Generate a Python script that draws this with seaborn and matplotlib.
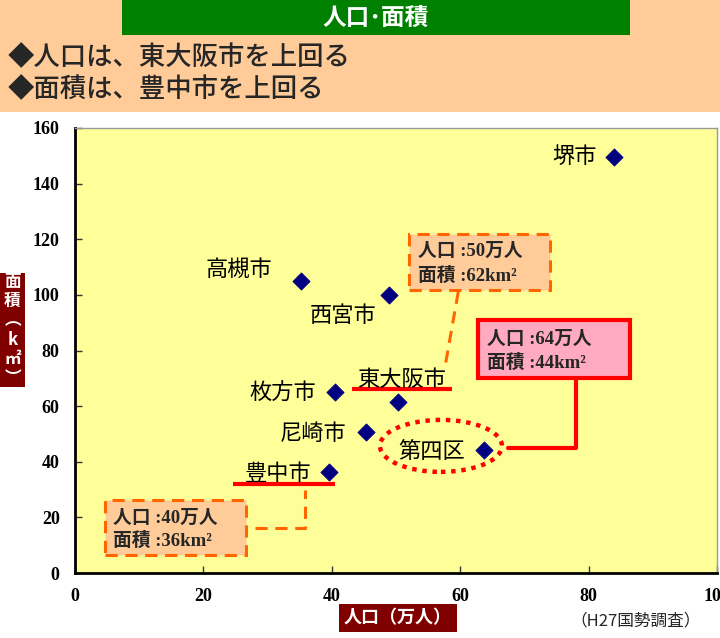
import matplotlib
matplotlib.use('Agg')
import matplotlib.pyplot as plt
from matplotlib.patches import Rectangle, Ellipse
import pandas as pd
import seaborn as sns

# data (人口 万人, 面積 km2)
cities = ['堺市', '高槻市', '西宮市', '枚方市', '東大阪市', '尼崎市', '第四区', '豊中市']
population = [84.0, 35.2, 48.9, 40.5, 50.3, 45.3, 63.7, 39.6]
area = [149.6, 105.0, 100.0, 65.0, 61.5, 50.7, 44.2, 36.3]
# label placement: (ha, dx px, dy px)
label_pos = [('right', -17, 0), ('right', -29, 12), ('center', -46, -21),
             ('right', -19, -1), ('center', 4, 23), ('right', -19, -1),
             ('right', -19, -1), ('right', -18, -1)]

xticks = [0, 20, 40, 60, 80, 100]
yticks = [0, 20, 40, 60, 80, 100, 120, 140, 160]

df = pd.DataFrame({'city': cities, 'pop': population, 'area': area})

sns.set_theme(style='white')
plt.rcParams['font.family'] = ['Noto Sans CJK JP', 'DejaVu Sans']

NAVY = '#000080'
DARKRED = '#800000'
ORANGE = '#FF6600'
PEACH = '#FFCC99'

fig = plt.figure(figsize=(7.2, 6.38), dpi=100)
W, H = 720, 638


def fx(px):
    return px / W


def fy(py):
    return 1 - py / H


# header
fig.patches.append(Rectangle((0, fy(112)), 1, 112 / H, transform=fig.transFigure,
                             facecolor=PEACH, edgecolor='none', zorder=0))
fig.patches.append(Rectangle((fx(122), fy(35)), fx(630) - fx(122), 35 / H,
                             transform=fig.transFigure, facecolor='#008000',
                             edgecolor='none', zorder=1))
fig.text(fx(376), fy(18), '人口･面積', color='white', fontsize=17, fontweight='bold',
         ha='center', va='center')
fig.text(fx(8), fy(58), '◆人口は、東大阪市を上回る', fontsize=19, ha='left', va='center',
         fontweight='medium')
fig.text(fx(8), fy(90), '◆面積は、豊中市を上回る', fontsize=19, ha='left', va='center',
         fontweight='medium')

ax = fig.add_axes([fx(75), fy(573), (717 - 75) / W, (573 - 128) / H])
ax.set_facecolor('#FFFF99')

sns.scatterplot(data=df, x='pop', y='area', marker='D', s=75, color=NAVY,
                edgecolor=NAVY, ax=ax, zorder=5)

ax.set_xlim(0, 100)
ax.set_ylim(0, 160)
ax.set_xticks(xticks)
ax.set_yticks(yticks)
ax.set_xlabel('')
ax.set_ylabel('')
ax.tick_params(direction='in', length=5, width=1, colors='#333333', pad=11,
               bottom=True, left=True)
for lab in ax.get_xticklabels() + ax.get_yticklabels():
    lab.set_family('Liberation Serif')
    lab.set_fontweight('bold')
    lab.set_fontsize(13)
    lab.set_color('black')
for s in ['left', 'bottom']:
    ax.spines[s].set_color('black')
    ax.spines[s].set_linewidth(2)
for s in ['top', 'right']:
    ax.spines[s].set_color('#999999')
    ax.spines[s].set_linewidth(1)

# city labels
for name, x, y, (ha, dx, dy) in zip(cities, population, area, label_pos):
    ax.annotate(name, (x, y), xytext=(dx * 0.72, dy * 0.72), textcoords='offset points',
                ha=ha, va='center', fontsize=16, color='black', zorder=6)

# underlines
ax.plot([43.1, 58.7], [66.2, 66.2], color='red', lw=3, solid_capstyle='butt', zorder=4)
ax.plot([24.6, 40.5], [32.0, 32.0], color='red', lw=3, solid_capstyle='butt', zorder=4)

dash = (0, (4, 2.5))
serif_jp = ['Liberation Serif', 'Noto Sans CJK JP']
box_fs = 13.5

# box 1 (東大阪市)
ax.add_patch(Rectangle((52.0, 101.8), 22.0, 20.1, facecolor=PEACH, edgecolor=ORANGE,
                       lw=2.2, linestyle=dash, zorder=3))
ax.text(53.4, 115.7, '人口 :50万人', fontsize=box_fs, fontweight='bold', family=serif_jp,
        va='center', zorder=4)
ax.text(53.4, 106.7, '面積 :62km²', fontsize=box_fs, fontweight='bold', family=serif_jp,
        va='center', zorder=4)
ax.plot([59.7, 57.6], [101.1, 73.7], color=ORANGE, lw=2.2, linestyle=dash, zorder=3)

# box 2 (第四区)
ax.add_patch(Rectangle((62.8, 70.1), 23.6, 20.9, facecolor='#FFAAC0', edgecolor='red',
                       lw=3, zorder=3))
ax.text(64.2, 84.0, '人口 :64万人', fontsize=box_fs, fontweight='bold', family=serif_jp,
        va='center', zorder=4)
ax.text(64.2, 75.4, '面積 :44km²', fontsize=box_fs, fontweight='bold', family=serif_jp,
        va='center', zorder=4)
ax.plot([78.0, 78.0, 67.4], [70.1, 45.0, 45.0], color='red', lw=3, zorder=3)

# box 3 (豊中市)
ax.add_patch(Rectangle((4.7, 6.5), 21.9, 19.8, facecolor=PEACH, edgecolor=ORANGE,
                       lw=2.2, linestyle=dash, zorder=3))
ax.text(5.9, 19.8, '人口 :40万人', fontsize=box_fs, fontweight='bold', family=serif_jp,
        va='center', zorder=4)
ax.text(5.9, 11.5, '面積 :36km²', fontsize=box_fs, fontweight='bold', family=serif_jp,
        va='center', zorder=4)
ax.plot([28.0, 35.8, 35.8], [16.2, 16.2, 29.9], color=ORANGE, lw=2.2, linestyle=dash,
        zorder=3)

# dotted ellipse around 第四区
ax.add_patch(Ellipse((57.0, 45.7), 19.0, 18.7, facecolor='none', edgecolor='red',
                     lw=3.2, linestyle=(0, (1, 1.3)), zorder=4))

# axis titles
fig.patches.append(Rectangle((0, fy(387)), 25 / W, (387 - 273) / H,
                             transform=fig.transFigure, facecolor=DARKRED,
                             edgecolor='none'))
fig.text(fx(12.5), fy(330), '面\n積\n︵\nk\n㎡\n︶', color='white', fontsize=12,
         fontweight='bold', ha='center', va='center', linespacing=1.1)
fig.text(fx(398), fy(618), '人口（万人）', color='white', fontsize=13, fontweight='bold',
         ha='center', va='center',
         bbox=dict(boxstyle='square,pad=0.25', facecolor=DARKRED, edgecolor='none'))
fig.text(fx(636), fy(621), '（H27国勢調査）', fontsize=12, ha='center', va='center')

fig.savefig('out.png', dpi=100)
